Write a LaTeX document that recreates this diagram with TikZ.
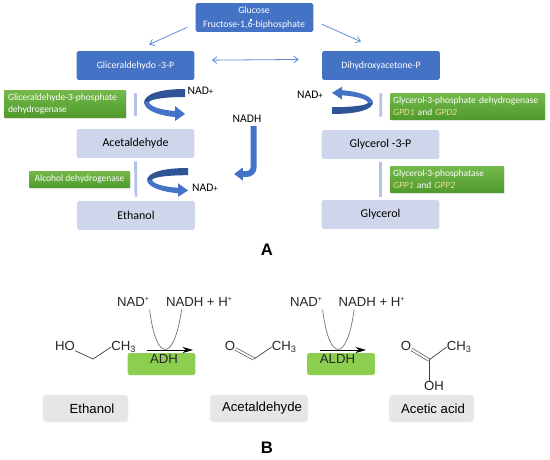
\documentclass[tikz,border=0pt]{standalone}
\usepackage{fontspec}
\setmainfont{Carlito}
\newfontfamily\arialfont{Liberation Sans}
\usetikzlibrary{arrows.meta,shadows}

\def\px{0.569pt}
\newcommand{\supplus}{\raisebox{2.6pt}{\fontsize{4}{4}\selectfont +}}
\newcommand{\methyl}{CH\raisebox{-1.4pt}{\fontsize{5.2}{5.2}\selectfont 3}}
\definecolor{bluebox}{HTML}{4472C4}
\definecolor{bluedark}{HTML}{2F5597}
\definecolor{bluethin}{HTML}{5F8AD6}
\definecolor{lilacbox}{HTML}{CFD5EA}
\definecolor{barblue}{HTML}{B4C3E6}
\definecolor{greentop}{HTML}{74B84A}
\definecolor{greenlow}{HTML}{4F9A2C}
\definecolor{genegold}{HTML}{E9E38F}
\definecolor{adhgreen}{HTML}{8CCF50}
\definecolor{labelgray}{HTML}{E6E6E6}

\tikzset{
  topbox/.style={fill=bluebox, rounded corners=1pt, text=white, font=\fontsize{5.55}{6}\selectfont,
    minimum width=118*\px, minimum height=29*\px, inner sep=0pt},
  metabox/.style={fill=lilacbox, rounded corners=1pt, text=black, font=\fontsize{6.8}{8}\selectfont,
    minimum width=118*\px, minimum height=29*\px, inner sep=0pt},
  enzyme/.style={top color=greentop, bottom color=greenlow, rounded corners=0.5pt,
    drop shadow={shadow xshift=0.4pt, shadow yshift=-0.4pt, opacity=0.35},
    text=white, font=\fontsize{5.4}{6.8}\selectfont, align=left, inner sep=0pt},
  smallarrow/.style={bluethin, line width=0.45pt, -{Straight Barb[length=2.5pt,width=3.8pt]}},
  smallboth/.style={bluethin, line width=0.45pt, {Straight Barb[length=2.5pt,width=3.8pt]}-{Straight Barb[length=2.5pt,width=3.8pt]}},
  bar/.style={barblue, line width=1.6pt},
  cof/.style={font=\fontsize{6.6}{8}\selectfont, inner sep=0pt},
  chem/.style={font=\arialfont\fontsize{7.5}{9}\selectfont, inner sep=0pt, text=black!85},
  bond/.style={black!75, line width=0.4pt},
  dbond/.style={black!75, line width=0.35pt, double, double distance=1.1pt},
  parab/.style={black!55, line width=0.4pt, shorten <=1.5pt, shorten >=1.5pt},
  reaction/.style={black, line width=0.5pt, -{Stealth[length=6pt,width=3.5pt]}},
  adhbox/.style={fill=adhgreen, rounded corners=1pt, minimum width=68*\px, minimum height=22*\px, inner sep=0pt},
  namebox/.style={fill=labelgray, draw=black!6, rounded corners=2pt, minimum height=27*\px, inner sep=0pt,
    font=\arialfont\fontsize{7.5}{9}\selectfont},
  panel/.style={font=\arialfont\bfseries\fontsize{9.5}{11}\selectfont, inner sep=0pt},
  swirl/.pic={
    \fill[bluedark] (0,0) .. controls (-25,0) and (-41,5) .. (-41,14)
      -- (-36,13) .. controls (-34,10) and (-20,8) .. (0,8) -- cycle;
    \fill[bluebox] (-41,14) .. controls (-39,23) and (-22,27) .. (-10,28) -- (-10,32) -- (0,25)
      -- (-10,17) -- (-10,22) .. controls (-23,21) and (-35,18) .. (-36,13) -- cycle;
  }
}

\begin{document}
\begin{tikzpicture}[x=0.02cm,y=-0.02cm]
  \useasboundingbox (0,0) rectangle (550,459);

  % upper panel, boxes
  \node[topbox] (glucose) at (254.5,17.5) {};
  \node[font=\fontsize{5.55}{6}\selectfont, text=white, inner sep=0pt] (glucosetxt) at (254,10) {Glucose};
  \node[font=\fontsize{5.55}{6}\selectfont, text=white, inner sep=0pt] (fructosetxt) at (254,24.5) {Fructose-1,6-biphosphate};
  \node[topbox] (gald) at (135.5,65.5) {Gliceraldehydo -3-P};
  \node[topbox] (dhap) at (381,65.5) {Dihydroxyacetone-P};
  \node[metabox] (acet) at (135.5,143.5) {Acetaldehyde};
  \node[metabox] (etoh) at (136,215.5) {Ethanol};
  \node[metabox] (g3p) at (380.5,144.5) {Glycerol -3-P};
  \node[metabox] (glyc) at (380.5,214.5) {Glycerol};

  \node[enzyme, minimum width=122*\px, minimum height=28*\px, text width=114*\px] (galdh) at (65,104)
    {Gliceraldehyde-3-phosphate\\dehydrogenase};
  \node[enzyme, minimum width=101*\px, minimum height=17*\px, align=center] (adhtop) at (79.5,179.5) {Alcohol dehydrogenase};
  \node[enzyme, minimum width=155*\px, minimum height=27*\px, text width=149*\px] (gpd) at (467.5,106.5)
    {Glycerol-3-phosphate dehydrogenase\\{\color{genegold}\itshape GPD1} and {\color{genegold}\itshape GPD2}};
  \node[enzyme, minimum width=114*\px, minimum height=27*\px, text width=108*\px] (gpp) at (447,179.5)
    {Glycerol-3-phosphatase\\{\color{genegold}\itshape GPP1} and {\color{genegold}\itshape GPP2}};

  \node[cof] (nadone) at (200.5,91) {NAD{\tiny+}};
  \node[cof] (nadtwo) at (205,188) {NAD{\tiny+}};
  \node[cof] (nadthree) at (310,95) {NAD{\tiny+}};
  \node[cof] (nadh) at (247,119) {NADH};

  % upper panel, arrows
  \draw[white, line width=0.6pt] ([xshift=-3*\px, yshift=-1.5*\px]fructosetxt.north) -- +(0,-2.5);
  \draw[smallarrow, shorten <=5pt, shorten >=8.5pt] (glucose.186.6) -- (gald.north);
  \draw[smallarrow, shorten <=5pt, shorten >=12.5pt] (glucose.-3) -- (dhap.north);
  \draw[smallboth, shorten <=9.7pt, shorten >=13pt] (gald.5.4) -- (dhap.174.6);

  \draw[bar, shorten <=7.4pt, shorten >=7.4pt] (gald.south) -- (acet.north);
  \draw[bar, shorten <=1.7pt, shorten >=2.3pt] (acet.south) -- (etoh.north);
  \draw[bar, shorten <=7.4pt, shorten >=7.4pt] (dhap.south) -- (g3p.north);
  \draw[bar, shorten <=1.7pt, shorten >=1.7pt] (g3p.south) -- (glyc.north);

  \pic at (185,89) {swirl};
  \pic[yscale=0.9] at (188,168) {swirl};
  \pic[xscale=-1,yscale=-0.85] at (332,114) {swirl};

  \coordinate (nadhbend) at (253.7,174);
  \coordinate (nadhtip) at (234,174);
  \draw[bluebox, line width=3.4pt, rounded corners=4pt, shorten <=1.7pt,
    -{Triangle[length=5pt,width=7pt]}] (nadh.south -| nadhbend) -- (nadhbend) -- (nadhtip);

  \node[panel] (panela) at (267,250) {A};

  % lower panel
  \node[adhbox] (adh) at (161.5,364) {};
  \node[adhbox] (aldh) at (341,364) {};
  \node[chem] (adhtxt) at (164,359) {ADH};
  \node[chem] (aldhtxt) at (337.5,359) {ALDH};

  \node[chem] (nadl) at (133,302) {NAD\supplus};
  \node[chem] (nadhl) at (199,302) {NADH + H\supplus};
  \node[chem] (nadr) at (306,302) {NAD\supplus};
  \node[chem] (nadhr) at (371.5,302) {NADH + H\supplus};

  \draw[parab] (nadl.south east) .. controls (156,362.7) and (174,362.7) .. ([xshift=-17*\px]nadhl.south);
  \draw[parab] (nadr.south east) .. controls (329,362.7) and (347,362.7) .. ([xshift=-17*\px]nadhr.south);

  \coordinate (adhstart) at (147,350);
  \coordinate (adhend) at (193,350);
  \coordinate (aldhstart) at (320,350);
  \coordinate (aldhend) at (366,350);
  \draw[reaction] (adhstart) -- (adhend);
  \draw[reaction] (aldhstart) -- (aldhend);

  % molecules
  \node[chem] (hoa) at (65,346) {HO};
  \node[chem] (ch3a) at (123.5,347) {\methyl};
  \coordinate (ca) at (93,359);
  \draw[bond] (hoa) -- (ca) -- (ch3a.west);

  \node[chem] (ob) at (230,346) {O};
  \node[chem] (ch3b) at (284,347) {\methyl};
  \coordinate (cb) at (254,359);
  \draw[dbond] (ob) -- (cb);
  \draw[bond] (cb) -- (ch3b.west);

  \node[chem] (oc) at (406,346) {O};
  \node[chem] (ch3c) at (459,347) {\methyl};
  \node[chem] (ohc) at (434,386) {OH};
  \coordinate (cc) at (429,360);
  \draw[dbond] (oc) -- (cc);
  \draw[bond] (cc) -- (ch3c.west);
  \draw[bond] (cc) -- (cc |- ohc.north);

  \node[namebox, minimum width=85*\px] (nameetoh) at (85.5,408.5) {\hspace*{7.4pt}Ethanol};
  \node[namebox, minimum width=98*\px] (nameacet) at (259,408.5) {\hspace*{3.4pt}Acetaldehyde};
  \node[namebox, minimum width=85*\px] (nameacid) at (431.5,408.5) {\hspace*{1.7pt}Acetic acid};

  \node[panel] (panelb) at (267,448) {B};
\end{tikzpicture}
\end{document}
